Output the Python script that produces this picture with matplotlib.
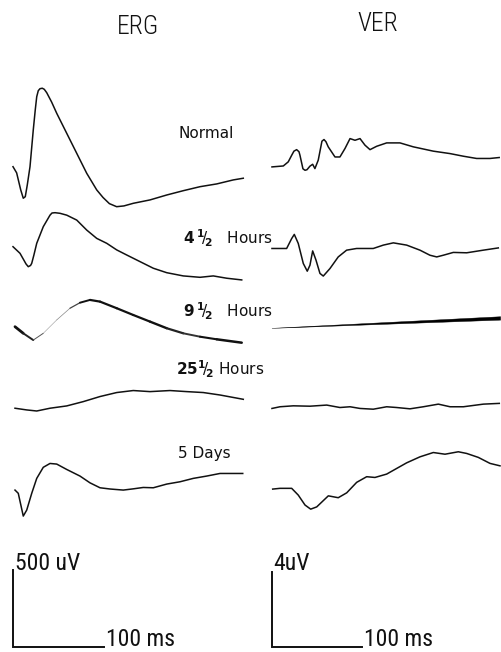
import matplotlib
matplotlib.use("Agg")
import matplotlib.pyplot as plt
from matplotlib.collections import LineCollection
from matplotlib import font_manager as fm
import numpy as np

# ---------------- data (time in ms, amplitude in uV, relative to trace start) ----------------
conditions = ["Normal", "4½ Hours", "9½ Hours", "25½ Hours", "5 Days"]

erg_normal_t = [0, 4.0, 8.5, 11.3, 13.5, 15.7, 18.7, 22.3, 24.5, 26.1, 27.8, 29.7, 32.2, 34.4,
                37.1, 42.5, 48.1, 59.1, 70.1, 81.1, 92.1, 99.0, 106.0, 114.0, 122.0, 132.3,
                150.7, 169.1, 187.3, 205.7, 224.1, 242.3, 253.3]
erg_normal_v = [0, -40, -151, -205, -195, -119, 0, 239, 370, 455, 494, 507, 510, 503,
                481, 420, 347, 217, 87, -43, -151, -200, -240, -260, -255, -238,
                -216, -184, -156, -130, -112, -86, -75]

erg_4h_t = [0, 7.7, 12.5, 14.3, 16.8, 19.3, 20.6, 23.0, 26.1, 33.3, 40.7, 42.9, 46.2, 51.7,
            59.1, 70.1, 81.1, 92.1, 103.1, 114.1, 125.1, 139.7, 154.3, 169.1, 187.3, 205.7,
            220.3, 235.1, 251.6]
erg_4h_v = [0, -43, -93, -112, -130, -122, -108, -54, 22, 130, 205, 219, 221, 217,
            205, 173, 108, 54, 22, -21, -54, -97, -140, -169, -190, -199,
            -190, -205, -216]

erg_9h_t = [2.2, 11.3, 22.3, 33.3, 48.1, 62.7, 73.7, 84.7, 95.7, 114.1, 132.3, 150.7,
            169.1, 187.3, 205.7, 224.1, 251.6]
erg_9h_v = [0, -43, -87, -43, 44, 120, 156, 174, 163, 120, 76, 33,
            -10, -43, -65, -82, -104]

erg_25h_t = [2.2, 15.0, 26.1, 40.7, 59.1, 77.3, 95.7, 114.1, 132.3, 150.7, 172.7, 191.1,
             209.3, 227.7, 253.3]
erg_25h_v = [0, -11, -18, 0, 15, 43, 76, 102, 115, 108, 115, 108, 102, 86, 58]

erg_5d_t = [2.2, 5.8, 11.3, 15.1, 20.6, 26.1, 33.3, 40.7, 48.1, 59.1, 73.7, 84.7, 95.7,
            106.7, 121.3, 132.3, 143.3, 154.3, 169.1, 183.7, 198.3, 213.0, 227.7, 252.7]
erg_5d_v = [0, -21, -169, -130, -21, 76, 148, 173, 169, 134, 91, 47, 15,
            7, 0, 8, 17, 15, 39, 54, 76, 91, 108, 108]

ver_normal_t = [0, 12.6, 18.1, 21.9, 24.4, 27.4, 30.0, 31.1, 34.4, 36.7, 38.9, 42.2, 45.2,
                47.7, 51.4, 55.5, 57.8, 60.0, 62.5, 70.0, 75.5, 81.1, 86.7, 92.2, 97.8,
                103.3, 108.9, 116.3, 127.4, 142.2, 157.0, 179.2, 197.8, 212.6, 227.3,
                242.1, 252.4]
ver_normal_v = [0, 0.05, 0.27, 0.62, 0.84, 0.92, 0.81, 0.62, -0.10, -0.18, -0.15, 0.04, 0.14,
                -0.09, 0.36, 1.37, 1.46, 1.34, 1.07, 0.53, 0.53, 0.98, 1.51, 1.42, 1.51,
                1.16, 0.92, 1.10, 1.28, 1.28, 1.07, 0.84, 0.71, 0.57, 0.45,
                0.45, 0.50]

ver_4h_t = [0, 16.3, 21.9, 24.8, 29.2, 34.8, 39.2, 42.2, 45.2, 48.9, 53.3, 57.0, 64.4, 73.6,
            82.9, 94.0, 112.5, 123.7, 134.8, 149.6, 164.4, 175.5, 183.0, 190.3, 201.4,
            216.3, 234.7, 251.4]
ver_4h_v = [0, 0, 0.53, 0.75, 0.27, -0.80, -1.21, -0.89, -0.13, -0.62, -1.33, -1.47, -1.07,
            -0.45, -0.09, 0, 0, 0.18, 0.30, 0.18, -0.09, -0.36, -0.45, -0.36, -0.21,
            -0.23, -0.09, 0.03]

ver_9h_t = [0, 254]
ver_9h_v = [0, 0.53]

ver_25h_t = [0, 8.9, 23.7, 42.2, 60.8, 75.5, 86.7, 97.8, 112.5, 127.4, 138.5, 153.3,
             168.1, 184.8, 197.8, 212.6, 234.8, 252.5]
ver_25h_v = [0, 0.09, 0.14, 0.12, 0.18, 0.05, 0.09, 0, -0.04, 0.09, 0.05, -0.02,
             0.09, 0.23, 0.09, 0.09, 0.23, 0.27]

ver_5d_t = [0.8, 8.9, 21.9, 29.2, 36.7, 43.0, 49.7, 62.6, 73.6, 83.0, 94.1, 105.2, 114.4,
            127.4, 138.5, 149.6, 164.4, 179.2, 192.2, 207.0, 216.3, 229.2, 242.2, 253.3]
ver_5d_v = [0, 0.04, 0.04, -0.32, -0.85, -1.07, -0.95, -0.36, -0.46, -0.20, 0.36, 0.66, 0.62,
            0.80, 1.10, 1.40, 1.72, 1.95, 1.86, 1.99, 1.90, 1.69, 1.37, 1.24]

erg_scale_uV, ver_scale_uV, scale_ms = 500, 4, 100

# ---------------- layout ----------------
erg_offsets = [3122, 2602, 2082, 1552, 1020]     # uV, vertical stacking of ERG traces
ver_offsets = [25.6, 21.25, 16.99, 12.72, 8.42]  # uV, vertical stacking of VER traces

W, H = 501, 652
fig = plt.figure(figsize=(W / 100, H / 100), dpi=100)
fig.patch.set_facecolor("white")

axL = fig.add_axes([0, 0, 250 / W, 1])
axR = fig.add_axes([250 / W, 0, 251 / W, 1])
axL.set_xlim(-14.3, 260.7)
axL.set_ylim(-32.5, 4205.5)
axR.set_xlim(-24.4, 254.4)
axR.set_ylim(-0.267, 34.5)
for ax in (axL, axR):
    ax.axis("off")

lw = 1.1
col = "#111111"

erg_traces = [(erg_normal_t, erg_normal_v), (erg_4h_t, erg_4h_v), None,
              (erg_25h_t, erg_25h_v), (erg_5d_t, erg_5d_v)]
for tr, off in zip(erg_traces, erg_offsets):
    if tr is None:
        continue
    t, v = tr
    axL.plot(t, np.asarray(v) + off, color=col, lw=lw, solid_joinstyle="round")

# 9 1/2 hour ERG: pen pressure varies along the trace
t9 = np.asarray(erg_9h_t)
v9 = np.asarray(erg_9h_v) + erg_offsets[2]
pts = np.column_stack([t9, v9])
segs = np.stack([pts[:-1], pts[1:]], axis=1)
widths = [2.0, 1.4, 0.7, 0.4, 0.5, 0.9, 1.4, 1.6, 1.6, 1.6, 1.6, 1.7, 1.6, 1.4, 1.5, 1.8]
colors = ["#111111", "#222222", "#555555", "#999999", "#888888", "#444444", "#111111",
          "#111111", "#111111", "#111111", "#111111", "#111111", "#222222", "#333333",
          "#111111", "#111111"]
axL.add_collection(LineCollection(segs, linewidths=widths, colors=colors, capstyle="round"))

ver_traces = [(ver_normal_t, ver_normal_v), (ver_4h_t, ver_4h_v), None,
              (ver_25h_t, ver_25h_v), (ver_5d_t, ver_5d_v)]
for tr, off in zip(ver_traces, ver_offsets):
    if tr is None:
        continue
    t, v = tr
    axR.plot(t, np.asarray(v) + off, color=col, lw=lw, solid_joinstyle="round")

# 9 1/2 hour VER: straight wedge-shaped trace
half = 0.09
axR.fill([ver_9h_t[0], ver_9h_t[1], ver_9h_t[1]],
         [ver_9h_v[0] + ver_offsets[2], ver_9h_v[1] + ver_offsets[2] + half,
          ver_9h_v[1] + ver_offsets[2] - half], color="black", lw=0.3)

# scale bars
axL.plot([0, 0, scale_ms], [erg_scale_uV, 0, 0], color=col, lw=1.4, solid_joinstyle="miter")
axR.plot([0, 0, scale_ms], [ver_scale_uV, 0, 0], color=col, lw=1.4, solid_joinstyle="miter")

# ---------------- text ----------------
# pick a narrow face for the stencil-like lettering if one is installed
narrow_family, narrow_stretch, narrow_scale = "DejaVu Sans", "normal", 0.78
for f in fm.fontManager.ttflist:
    if "ondensed" in f.fname and f.name in ("DejaVu Sans", "Roboto", "Open Sans", "Noto Sans"):
        narrow_family, narrow_stretch, narrow_scale = f.name, "condensed", 1.0
        break
for f in fm.fontManager.ttflist:
    if f.name in ("Liberation Sans Narrow", "Roboto Condensed"):
        narrow_family, narrow_stretch, narrow_scale = f.name, "normal", 1.0
        break


def ftext(x, y, s, **kw):
    fig.text(x / W, 1 - y / H, s, ha="left", va="baseline", **kw)


nkw = dict(family=narrow_family, stretch=narrow_stretch, color="#111111")
ftext(117, 34, "ERG", fontsize=18.5 * narrow_scale, fontweight="light", **nkw)
ftext(357, 31, "VER", fontsize=18.5 * narrow_scale, fontweight="light", **nkw)
ftext(15, 570, "500 uV", fontsize=17 * narrow_scale, fontweight="normal", **nkw)
ftext(106, 646, "100 ms", fontsize=17 * narrow_scale, fontweight="normal", **nkw)
ftext(273, 570, "4uV", fontsize=17 * narrow_scale, fontweight="normal", **nkw)
ftext(364, 646, "100 ms", fontsize=17 * narrow_scale, fontweight="normal", **nkw)

lab_kw = dict(family="DejaVu Sans", fontsize=11, color="#111111")
ftext(179, 138, "Normal", **lab_kw)
ftext(183, 244, r"$\mathbf{4}\,^{\mathbf{1}}\!/\!_{\mathbf{2}}$   Hours", **lab_kw)
ftext(183, 317, r"$\mathbf{9}\,^{\mathbf{1}}\!/\!_{\mathbf{2}}$   Hours", **lab_kw)
ftext(176, 375, r"$\mathbf{25}^{\mathbf{1}}\!/\!_{\mathbf{2}}$ Hours", **lab_kw)
ftext(178, 458, "5 Days", **lab_kw)

fig.savefig("out.png", dpi=100, facecolor="white")
